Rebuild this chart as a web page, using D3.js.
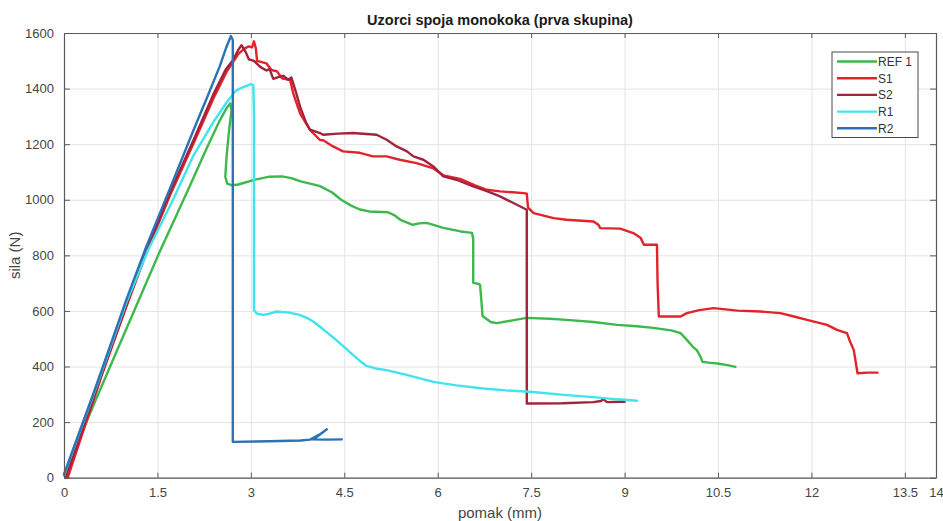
<!DOCTYPE html>
<html>
<head>
<meta charset="utf-8">
<script src="https://cdn.jsdelivr.net/npm/d3@7"></script>
<style>
  html, body { margin: 0; padding: 0; background: #fff; }
  svg { display: block; font-family: "Liberation Sans", Arial, Helvetica, sans-serif; }
</style>
</head>
<body>
<svg id="chart" width="943" height="521"></svg>
<script>
// ---------- DATA ----------
const chartTitle = "Uzorci spoja monokoka (prva skupina)";
const xLabel = "pomak (mm)";
const yLabel = "sila (N)";
const xTicks = [0, 1.5, 3, 4.5, 6, 7.5, 9, 10.5, 12, 13.5, 14];
const yTicks = [0, 200, 400, 600, 800, 1000, 1200, 1400, 1600];
const seriesNames = ["REF 1", "S1", "S2", "R1", "R2"];

const ref1 = [[0.0,8],[0.5,275],[1.0,535],[1.54,815],[2.0,1040],[2.3,1190],[2.5,1285],[2.62,1333],[2.67,1347],[2.69,1322],[2.65,1250],[2.61,1155],[2.59,1083],[2.62,1058],[2.7,1052],[2.8,1055],[3.04,1071],[3.3,1083],[3.5,1084],[3.65,1078],[3.8,1066],[4.1,1050],[4.3,1027],[4.45,1000],[4.6,980],[4.75,965],[4.9,958],[5.2,955],[5.3,945],[5.4,928],[5.6,910],[5.7,915],[5.82,917],[6.0,905],[6.09,899],[6.37,886],[6.55,881],[6.57,860],[6.57,701],[6.66,697],[6.68,694],[6.7,640],[6.72,582],[6.85,560],[6.95,556],[7.2,566],[7.43,575],[7.8,572],[8.07,568],[8.5,560],[8.88,550],[9.2,545],[9.46,539],[9.75,530],[9.9,520],[10.0,496],[10.1,470],[10.16,459],[10.22,435],[10.25,417],[10.35,414],[10.49,411],[10.65,405],[10.78,399]];

const s1 = [[0.06,0],[0.6,365],[1.0,615],[1.34,819],[1.7,1015],[2.08,1203],[2.4,1365],[2.61,1460],[2.8,1525],[2.9,1545],[2.97,1552],[3.02,1548],[3.05,1570],[3.08,1545],[3.1,1500],[3.25,1491],[3.33,1467],[3.42,1462],[3.5,1437],[3.63,1431],[3.68,1383],[3.79,1311],[3.95,1251],[4.11,1215],[4.16,1214],[4.32,1192],[4.48,1174],[4.75,1169],[4.96,1156],[5.18,1156],[5.39,1144],[5.66,1132],[5.92,1114],[6.09,1088],[6.36,1075],[6.6,1052],[6.79,1036],[7.0,1030],[7.2,1027],[7.38,1024],[7.43,1022],[7.45,972],[7.54,952],[7.86,934],[8.07,928],[8.5,922],[8.58,910],[8.61,898],[8.93,896],[9.14,880],[9.26,862],[9.31,838],[9.52,838],[9.53,700],[9.55,580],[9.9,580],[10.0,592],[10.2,603],[10.43,610],[10.81,601],[11.18,598],[11.5,592],[11.72,580],[11.93,568],[12.25,550],[12.41,532],[12.57,520],[12.62,490],[12.68,459],[12.74,376],[12.9,378],[13.06,378]];

const s2 = [[0.03,0],[0.6,370],[1.0,620],[1.34,825],[1.7,1025],[2.08,1215],[2.4,1380],[2.6,1470],[2.72,1505],[2.8,1540],[2.85,1556],[2.92,1530],[2.97,1505],[3.05,1500],[3.15,1478],[3.25,1465],[3.3,1470],[3.36,1435],[3.45,1442],[3.52,1446],[3.6,1432],[3.65,1440],[3.72,1390],[3.79,1335],[3.89,1276],[3.95,1252],[4.11,1240],[4.16,1234],[4.4,1238],[4.64,1240],[5.02,1234],[5.18,1216],[5.34,1192],[5.5,1175],[5.61,1156],[5.77,1144],[5.93,1120],[6.09,1084],[6.3,1072],[6.57,1048],[6.8,1030],[7.0,1012],[7.2,990],[7.43,964],[7.43,267],[8.0,268],[8.5,272],[8.62,276],[8.66,282],[8.72,272],[8.93,273],[9.0,273]];

const r1 = [[0.0,10],[0.5,315],[1.0,630],[1.35,819],[1.75,1000],[2.08,1160],[2.4,1280],[2.61,1350],[2.75,1390],[2.83,1401],[2.93,1410],[3.0,1416],[3.04,1412],[3.05,1300],[3.05,603],[3.1,590],[3.2,586],[3.3,590],[3.41,598],[3.5,596],[3.62,594],[3.78,586],[3.9,575],[4.0,562],[4.11,543],[4.32,505],[4.45,480],[4.59,452],[4.75,420],[4.86,402],[5.0,393],[5.18,387],[5.5,370],[5.93,345],[6.3,332],[6.73,321],[7.1,314],[7.48,309],[8.07,297],[8.5,290],[8.88,282],[9.2,277]];

const r2 = [[0.0,12],[0.5,320],[1.0,640],[1.3,819],[1.7,1040],[2.08,1251],[2.3,1370],[2.5,1480],[2.6,1545],[2.68,1589],[2.71,1575],[2.71,129],[3.3,131],[3.8,134],[3.95,137],[4.1,155],[4.22,174],[4.05,145],[3.98,138],[4.2,137],[4.46,138]];

const seriesData = [ref1, s1, s2, r1, r2];
const seriesColors = ["#3cb94c", "#e3232a", "#a2233b", "#3fe4ee", "#2b72b6"];

// ---------- LAYOUT ----------
const svg = d3.select("#chart");
const W = 943, H = 521;
const m = { left: 64, top: 33, right: 7, bottom: 43.3 };
const iw = W - m.left - m.right;  // 872
const ih = H - m.top - m.bottom;  // 444.7

const x = d3.scaleLinear().domain([0, 14]).range([m.left, m.left + iw]);
const y = d3.scaleLinear().domain([0, 1600]).range([m.top + ih, m.top]);

svg.append("rect").attr("width", W).attr("height", H).attr("fill", "#fff");

// grid
const grid = svg.append("g").attr("class", "grid");
grid.append("g")
  .attr("transform", `translate(0,${m.top + ih})`)
  .call(d3.axisBottom(x).tickValues(xTicks).tickSize(-ih).tickFormat(""))
  .call(g => g.select(".domain").remove())
  .call(g => g.selectAll("line").attr("stroke", "#e3e3e3").attr("stroke-width", 1));
grid.append("g")
  .attr("transform", `translate(${m.left},0)`)
  .call(d3.axisLeft(y).tickValues(yTicks).tickSize(-iw).tickFormat(""))
  .call(g => g.select(".domain").remove())
  .call(g => g.selectAll("line").attr("stroke", "#e3e3e3").attr("stroke-width", 1));

// lines
const line = d3.line().x(d => x(d[0])).y(d => y(d[1]));
const lg = svg.append("g").attr("class", "series");
seriesData.forEach((data, i) => {
  lg.append("path")
    .datum(data)
    .attr("fill", "none")
    .attr("stroke", seriesColors[i])
    .attr("stroke-width", 2.4)
    .attr("stroke-linejoin", "round")
    .attr("stroke-linecap", "round")
    .attr("d", line);
});

// axes
const axisColor = "#5a5a5a";
const tickFont = 13;
function styleAxis(g) {
  g.select(".domain").attr("stroke", axisColor).attr("stroke-width", 1.2);
  g.selectAll(".tick line").attr("stroke", axisColor).attr("stroke-width", 1);
  g.selectAll(".tick text").attr("fill", "#454545").style("font-size", tickFont + "px")
    .style("font-family", "'Liberation Sans', Arial, sans-serif");
}
const fmt = d => String(d);
svg.append("g")
  .attr("transform", `translate(0,${m.top + ih})`)
  .call(d3.axisBottom(x).tickValues(xTicks).tickSizeInner(-5).tickSizeOuter(0).tickPadding(10.5).tickFormat(fmt))
  .call(styleAxis);
svg.append("g")
  .attr("transform", `translate(${m.left},0)`)
  .call(d3.axisLeft(y).tickValues(yTicks).tickSizeInner(-6).tickSizeOuter(0).tickPadding(10).tickFormat(fmt))
  .call(styleAxis);
svg.append("g")
  .attr("transform", `translate(0,${m.top})`)
  .call(d3.axisTop(x).tickValues(xTicks).tickSizeInner(-5).tickSizeOuter(0).tickFormat(""))
  .call(styleAxis);
svg.append("g")
  .attr("transform", `translate(${m.left + iw},0)`)
  .call(d3.axisRight(y).tickValues(yTicks).tickSizeInner(-6).tickSizeOuter(0).tickFormat(""))
  .call(styleAxis);

// labels
svg.append("text")
  .attr("x", x(7)).attr("y", 25)
  .attr("text-anchor", "middle")
  .attr("font-weight", "bold")
  .attr("fill", "#1a1a1a")
  .style("font-size", "14.5px")
  .text(chartTitle);
svg.append("text")
  .attr("x", x(7)).attr("y", 518)
  .attr("text-anchor", "middle")
  .attr("fill", "#454545")
  .style("font-size", "15px")
  .text(xLabel);
svg.append("text")
  .attr("transform", `translate(20,${y(800)}) rotate(-90)`)
  .attr("text-anchor", "middle")
  .attr("fill", "#454545")
  .style("font-size", "15px")
  .text(yLabel);

// legend
const leg = svg.append("g").attr("transform", "translate(832,52)");
leg.append("rect")
  .attr("width", 86).attr("height", 85.5)
  .attr("fill", "#fff")
  .attr("stroke", "#4a4a4a").attr("stroke-width", 1);
seriesNames.forEach((name, i) => {
  const yy = 9.5 + i * 16.7;
  leg.append("line")
    .attr("x1", 5).attr("x2", 45).attr("y1", yy).attr("y2", yy)
    .attr("stroke", seriesColors[i]).attr("stroke-width", 2.4);
  leg.append("text")
    .attr("x", 46).attr("y", yy + 4.3)
    .attr("fill", "#333")
    .style("font-size", "12px")
    .text(name);
});
</script>
</body>
</html>
